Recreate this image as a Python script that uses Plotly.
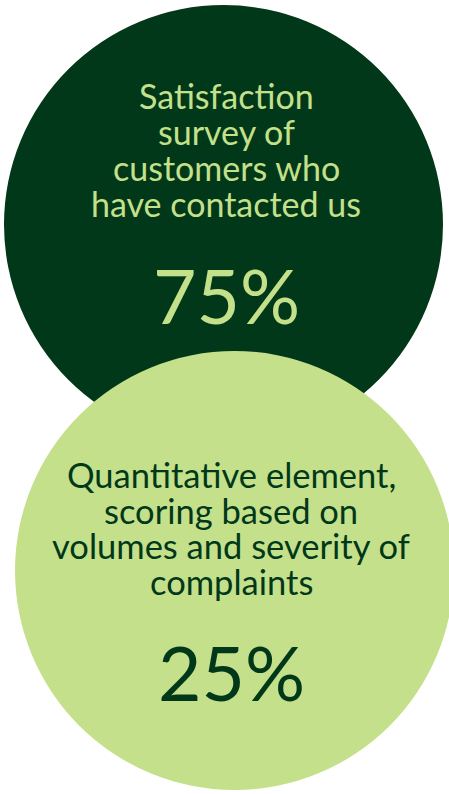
import plotly.graph_objects as go

# Data
label_lines = [
    ["Satisfaction", "survey of", "customers who", "have contacted us"],
    ["Quantitative element,", "scoring based on", "volumes and severity of", "complaints"],
]
shares = [75, 25]
fill_colors = ["#02381A", "#C4E08A"]
text_colors = ["#C4E08A", "#02381A"]

# layout geometry (pixel space)
centers = [(223.5, 224.5), (234.5, 570.5)]
radius = 219.5
first_line_y = [95, 474.5]
line_step = [36, 35.5]
label_size = [34, 34.5]
pct_y = [295, 672]
text_x = [226, 231]

W, H = 449, 794
fig = go.Figure()
fig.add_trace(go.Scatter(x=[0, W], y=[0, H], mode="markers",
                         marker=dict(opacity=0), hoverinfo="skip", showlegend=False))

shapes = []
for (cx, cy), col in zip(centers, fill_colors):
    shapes.append(dict(type="circle", xref="x", yref="y",
                       x0=cx - radius, x1=cx + radius, y0=cy - radius, y1=cy + radius,
                       fillcolor=col, line=dict(width=0), layer="below"))

annotations = []
for i in range(2):
    for j, line in enumerate(label_lines[i]):
        annotations.append(dict(x=text_x[i], y=first_line_y[i] + j * line_step[i],
                                xref="x", yref="y", text=line, showarrow=False,
                                font=dict(family="Lato", size=label_size[i], color=text_colors[i]),
                                xanchor="center", yanchor="middle"))
    annotations.append(dict(x=text_x[i], y=pct_y[i], xref="x", yref="y",
                            text=f"{shares[i]}%", showarrow=False,
                            font=dict(family="Lato", size=75, color=text_colors[i]),
                            xanchor="center", yanchor="middle"))

fig.update_layout(
    width=W, height=H, margin=dict(l=0, r=0, t=0, b=0),
    paper_bgcolor="white", plot_bgcolor="white",
    xaxis=dict(range=[0, W], visible=False, fixedrange=True),
    yaxis=dict(range=[H, 0], visible=False, fixedrange=True),
    shapes=shapes, annotations=annotations, showlegend=False,
)
fig.write_html("out.html", config={"displayModeBar": False})
